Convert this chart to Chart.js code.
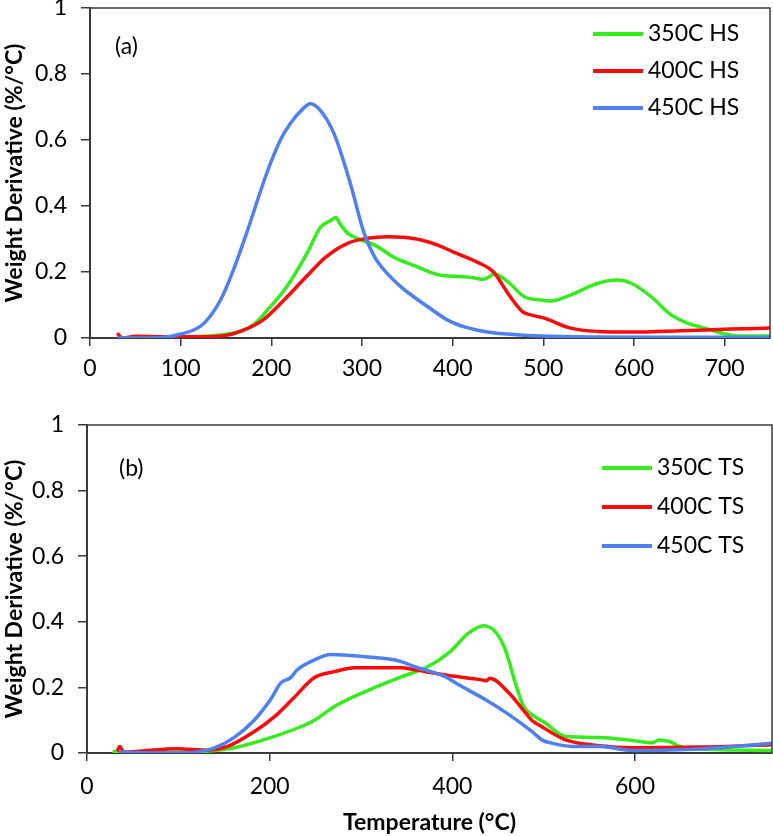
<!DOCTYPE html>
<html>
<head>
<meta charset="utf-8">
<title>Weight Derivative vs Temperature</title>
<script src="https://cdn.jsdelivr.net/npm/chart.js@4.4.1/dist/chart.umd.min.js"></script>
<style>
  html, body { margin: 0; padding: 0; background: #fff; }
  canvas { display: block; }
</style>
</head>
<body>
<canvas id="chart-hs" width="773" height="385"></canvas>
<canvas id="chart-ts" width="773" height="451"></canvas>
<script>
/* DTG curves, panel (a) HS and panel (b) TS */

// Panel (a)
const hs350_t = [30, 50, 80, 100, 120, 140, 158, 180, 199, 217, 240, 254, 265, 271, 276, 284, 298, 315, 335, 357, 387, 416, 434, 440, 446, 461, 479, 497, 508, 530, 560, 582, 597, 619, 641, 659, 682, 700, 715, 750];
const hs350_v = [0, 0, 0, 0.002, 0.004, 0.008, 0.015, 0.04, 0.095, 0.155, 0.26, 0.335, 0.355, 0.365, 0.345, 0.318, 0.298, 0.28, 0.245, 0.22, 0.19, 0.185, 0.178, 0.185, 0.195, 0.17, 0.125, 0.115, 0.112, 0.13, 0.166, 0.176, 0.166, 0.125, 0.07, 0.045, 0.027, 0.012, 0.006, 0.006];

const hs400_t = [30, 33, 36, 50, 80, 120, 150, 166, 191, 214, 240, 260, 284, 306, 328, 345, 365, 385, 401, 427, 445, 461, 477, 486, 501, 530, 560, 597, 652, 707, 750];
const hs400_v = [0.015, 0.005, 0, 0.005, 0.004, 0.004, 0.008, 0.02, 0.055, 0.115, 0.19, 0.245, 0.287, 0.302, 0.307, 0.305, 0.297, 0.28, 0.26, 0.23, 0.2, 0.135, 0.08, 0.07, 0.06, 0.03, 0.02, 0.018, 0.022, 0.027, 0.03];

const hs450_t = [30, 60, 85, 100, 115, 126, 144, 158, 173, 195, 210, 221, 235, 243, 254, 269, 287, 302, 314, 328, 343, 357, 375, 394, 415, 438, 470, 497, 550, 650, 750];
const hs450_v = [0, 0, 0.003, 0.012, 0.025, 0.045, 0.115, 0.205, 0.32, 0.5, 0.6, 0.65, 0.695, 0.71, 0.69, 0.62, 0.47, 0.32, 0.245, 0.195, 0.155, 0.125, 0.09, 0.055, 0.032, 0.018, 0.01, 0.006, 0.003, 0.002, 0.002];

// Panel (b)
const ts350_t = [28, 32, 36, 60, 100, 130, 161, 201, 234, 249, 271, 307, 344, 373, 396, 418, 434, 447, 458, 469, 478, 487, 500, 524, 561, 597, 619, 626, 638, 649, 671, 750];
const ts350_v = [0.005, 0.003, 0, 0, 0.002, 0.005, 0.016, 0.047, 0.08, 0.1, 0.142, 0.19, 0.232, 0.263, 0.305, 0.366, 0.388, 0.37, 0.315, 0.213, 0.142, 0.117, 0.095, 0.05, 0.047, 0.038, 0.031, 0.04, 0.035, 0.02, 0.012, 0.008];

const ts400_t = [33, 36, 40, 60, 98, 132, 154, 183, 205, 227, 249, 271, 293, 344, 359, 396, 432, 437, 441, 462, 480, 487, 498, 524, 561, 597, 671, 750];
const ts400_v = [0.005, 0.02, 0.003, 0.006, 0.013, 0.009, 0.02, 0.065, 0.11, 0.17, 0.23, 0.248, 0.26, 0.26, 0.254, 0.236, 0.223, 0.22, 0.228, 0.183, 0.123, 0.1, 0.08, 0.04, 0.022, 0.016, 0.018, 0.025];

const ts450_t = [35, 60, 100, 120, 139, 161, 183, 201, 212, 223, 230, 249, 267, 289, 307, 341, 359, 392, 407, 436, 462, 487, 498, 509, 531, 561, 597, 671, 750];
const ts450_v = [0.003, 0.001, 0, 0.003, 0.015, 0.047, 0.1, 0.163, 0.213, 0.23, 0.253, 0.284, 0.3, 0.297, 0.293, 0.281, 0.263, 0.233, 0.208, 0.163, 0.117, 0.066, 0.04, 0.03, 0.02, 0.02, 0.008, 0.012, 0.03];

// Tick labels
const x_ticks_a = [0, 100, 200, 300, 400, 500, 600, 700];
const x_ticks_b = [0, 200, 400, 600];
const y_ticks = [0, 0.2, 0.4, 0.6, 0.8, 1];

const GREEN = '#35ec1c';
const RED = '#ff0a0a';
const BLUE = '#4f80f0';
const AXIS = '#3a3a3a';
const FONT = 'Lato';
const FSIZE = 23;

function toPoints(t, v) {
  var pts = [];
  for(var i = 0; i < t.length; i++) {
    pts.push({ x: t[i], y: v[i] });
  }
  return pts;
}

// frame, panel label and the in-plot legend
const panelDeco = {
  id: 'panelDeco',
  afterDraw(chart, args, opts) {
    const ctx = chart.ctx;
    const area = chart.chartArea;
    ctx.save();
    ctx.strokeStyle = AXIS;
    ctx.lineWidth = 1.5;
    ctx.beginPath();
    ctx.moveTo(area.left, area.top);
    ctx.lineTo(area.right, area.top);
    ctx.lineTo(area.right, area.bottom);
    ctx.stroke();

    ctx.font = FSIZE + 'px ' + FONT;
    ctx.fillStyle = '#000';
    ctx.textBaseline = 'middle';
    ctx.fillText(opts.label, opts.labelX, opts.labelY);

    chart.data.datasets.forEach(function(ds, i) {
      const y = opts.legendY + i * opts.rowGap;
      ctx.strokeStyle = ds.borderColor;
      ctx.lineWidth = 4;
      ctx.beginPath();
      ctx.moveTo(opts.legendX, y);
      ctx.lineTo(opts.legendX + 50, y);
      ctx.stroke();
      ctx.fillText(ds.label, opts.legendX + 55, y);
    });
    ctx.restore();
  }
};

function makeDataset(label, t, v, color, order) {
  return {
    label: label,
    data: toPoints(t, v),
    borderColor: color,
    backgroundColor: color,
    borderWidth: 3.5,
    pointRadius: 0,
    cubicInterpolationMode: 'monotone',
    fill: false,
    order: order
  };
}

function makeConfig(datasets, p) {
  return {
    type: 'line',
    data: { datasets: datasets },
    options: {
      responsive: false,
      animation: false,
      devicePixelRatio: 1,
      layout: { padding: { top: p.top, right: p.right, bottom: 0, left: 0 } },
      plugins: {
        legend: { display: false },
        tooltip: { enabled: false },
        panelDeco: p.deco
      },
      scales: {
        x: {
          type: 'linear',
          min: 0,
          max: 750,
          border: { color: AXIS, width: 2 },
          grid: { drawOnChartArea: false, drawTicks: true, tickLength: 8, color: AXIS, lineWidth: 1.5 },
          ticks: {
            autoSkip: false,
            maxRotation: 0,
            padding: p.xPad,
            color: '#000',
            font: { family: FONT, size: FSIZE }
          },
          title: {
            display: p.xTitle,
            text: 'Temperature (°C)',
            color: '#000',
            padding: { top: 0, bottom: 0 },
            font: { family: FONT, size: FSIZE, weight: 'bold' }
          },
          afterBuildTicks: function(scale) {
            scale.ticks = p.xTicks.map(function(v) { return { value: v }; });
          },
          afterFit: function(scale) {
            scale.height = p.xHeight;
            scale.paddingLeft = 0;
            scale.paddingRight = 0;
          }
        },
        y: {
          min: 0,
          max: 1,
          border: { color: AXIS, width: 2 },
          grid: { drawOnChartArea: false, drawTicks: true, tickLength: 9, color: AXIS, lineWidth: 1.5 },
          afterBuildTicks: function(scale) {
            scale.ticks = y_ticks.map(function(v) { return { value: v }; });
          },
          ticks: {
            padding: 14,
            color: '#000',
            font: { family: FONT, size: FSIZE },
            callback: function(value) {
              return (Math.round(value * 10) / 10).toString();
            }
          },
          title: {
            display: true,
            text: 'Weight Derivative (%/°C)',
            color: '#000',
            padding: { top: 1, bottom: 0 },
            font: { family: FONT, size: FSIZE, weight: 'bold' }
          },
          afterFit: function(scale) {
            scale.width = p.yWidth;
            scale.paddingTop = 0;
            scale.paddingBottom = 0;
          }
        }
      }
    },
    plugins: [panelDeco]
  };
}

new Chart(document.getElementById('chart-hs'), makeConfig([
  makeDataset('350C HS', hs350_t, hs350_v, GREEN, 3),
  makeDataset('400C HS', hs400_t, hs400_v, RED, 2),
  makeDataset('450C HS', hs450_t, hs450_v, BLUE, 1)
], {
  top: 8, right: 3, yWidth: 90, xHeight: 47, xTicks: x_ticks_a, xPad: 9, xTitle: false,
  deco: { label: '(a)', labelX: 115, labelY: 47, legendX: 593, legendY: 34, rowGap: 37 }
}));

new Chart(document.getElementById('chart-ts'), makeConfig([
  makeDataset('350C TS', ts350_t, ts350_v, GREEN, 3),
  makeDataset('400C TS', ts400_t, ts400_v, RED, 2),
  makeDataset('450C TS', ts450_t, ts450_v, BLUE, 1)
], {
  top: 40, right: 1, yWidth: 87, xHeight: 83, xTicks: x_ticks_b, xPad: 12, xTitle: true,
  deco: { label: '(b)', labelX: 119, labelY: 84, legendX: 602, legendY: 83, rowGap: 39 }
}));
</script>
</body>
</html>
